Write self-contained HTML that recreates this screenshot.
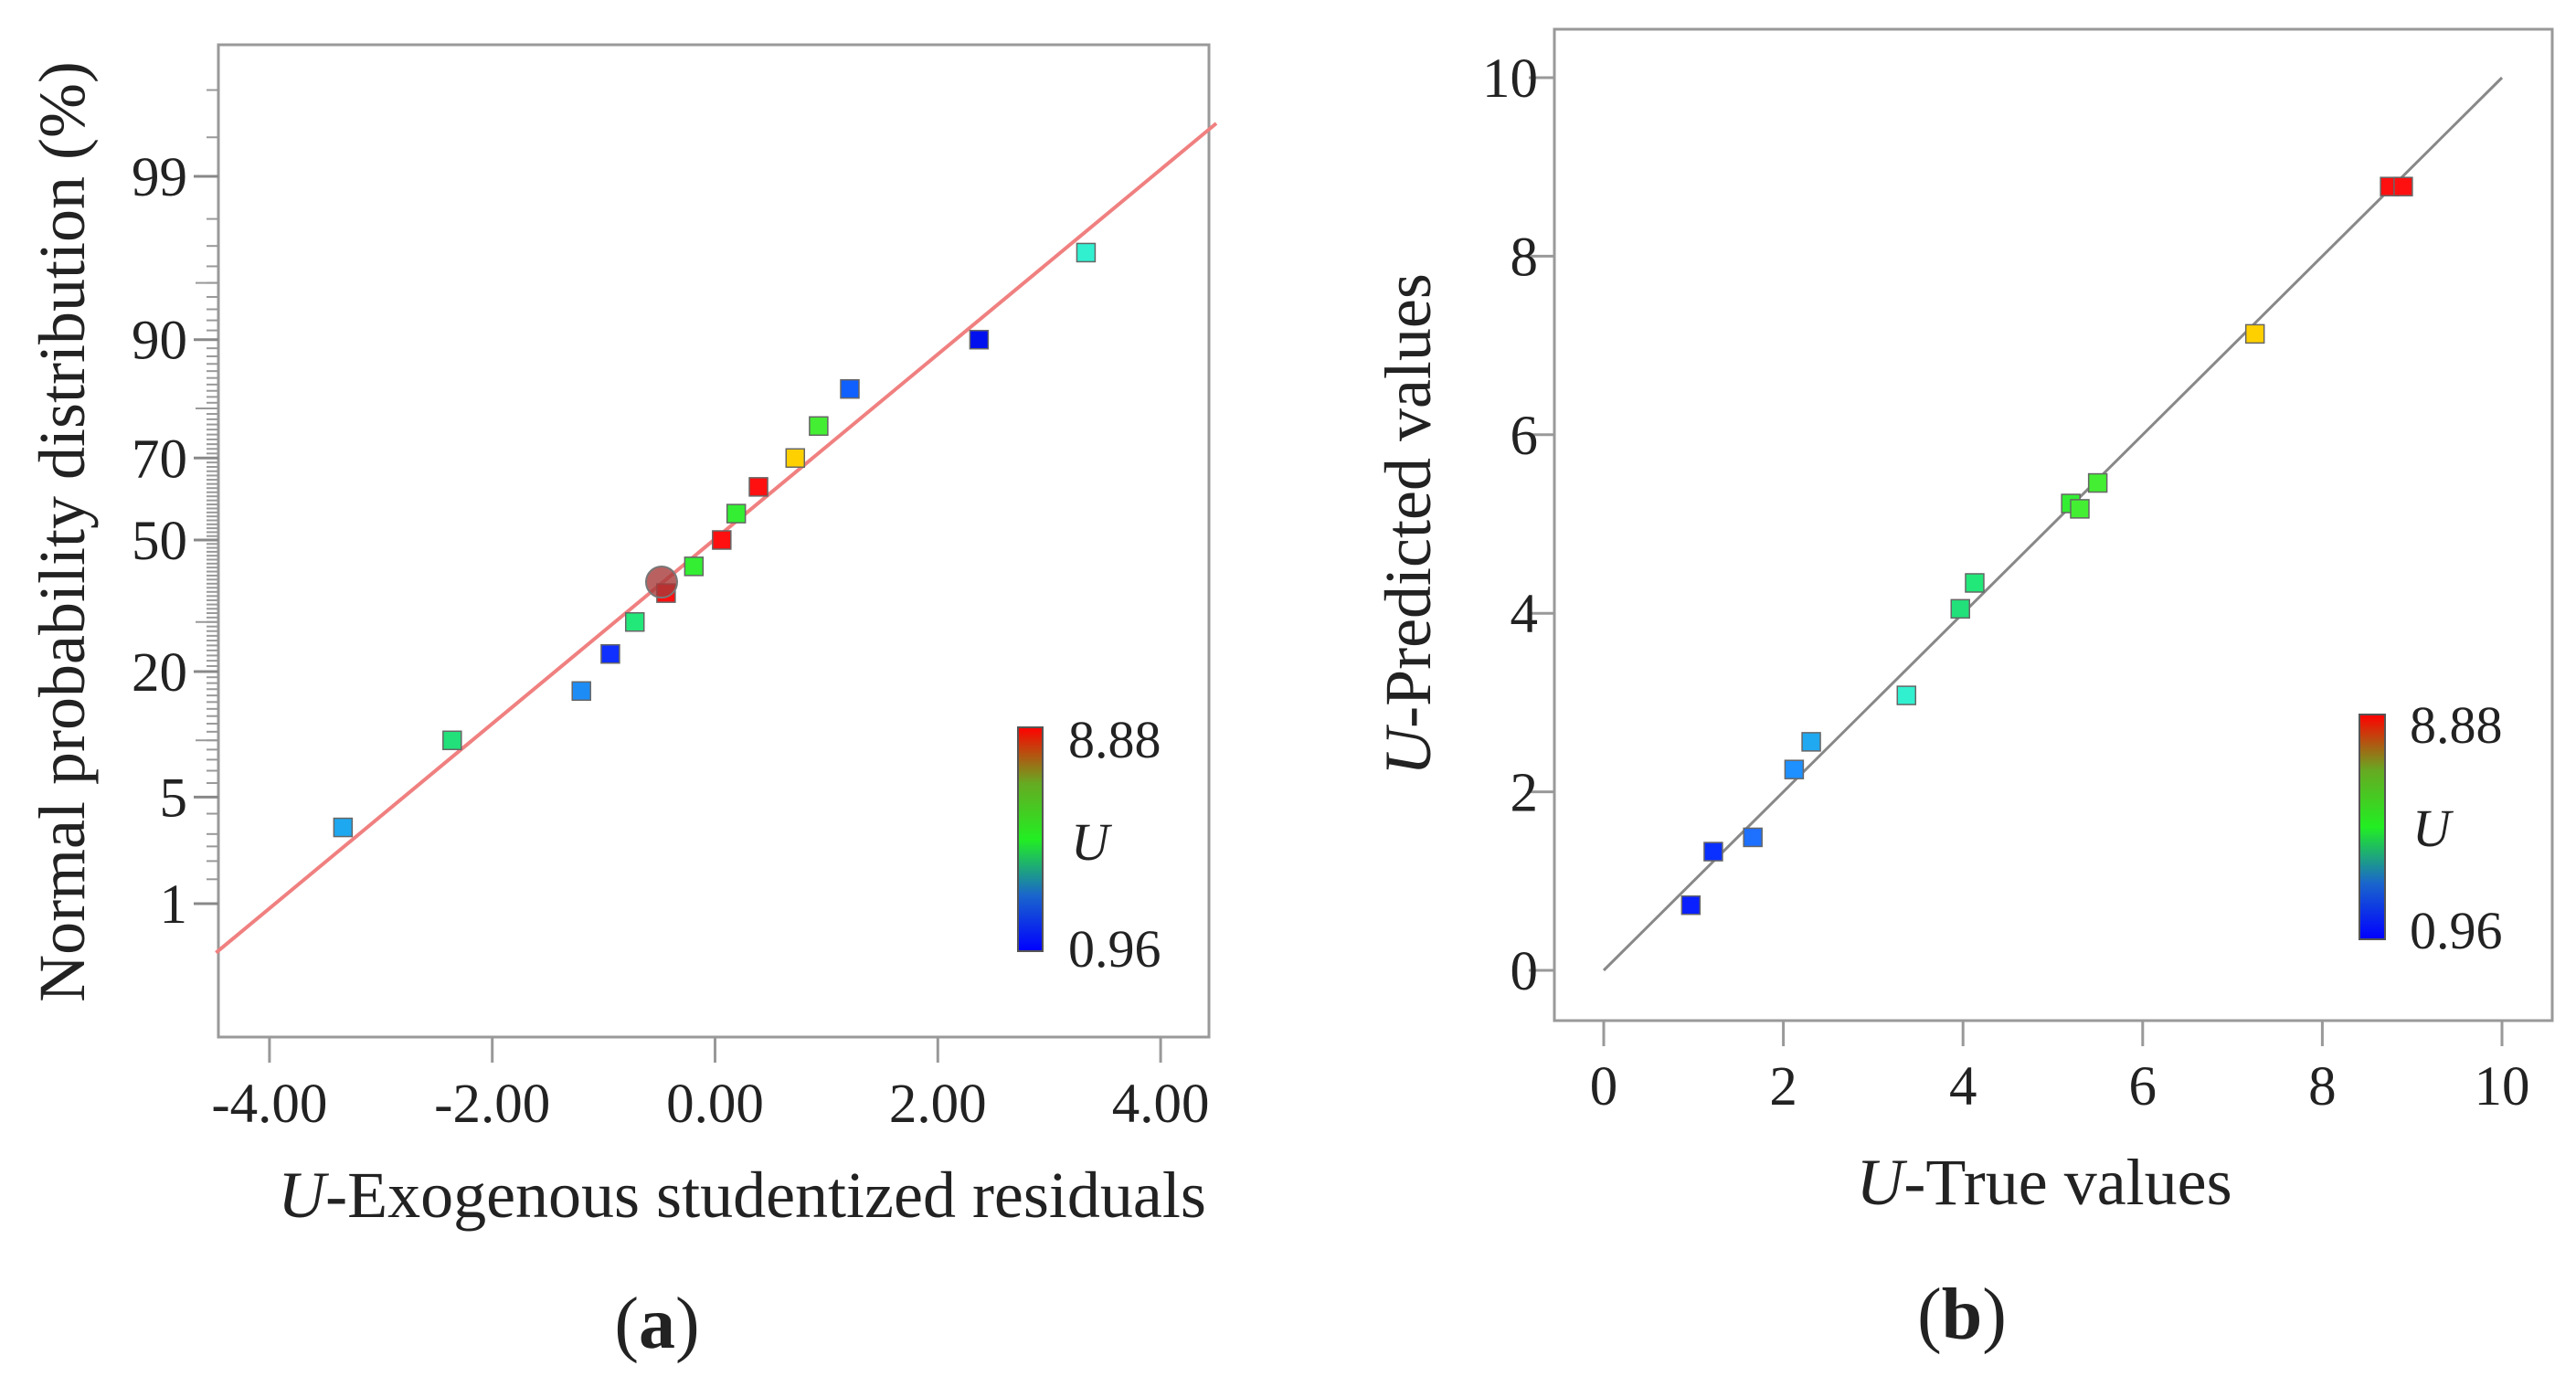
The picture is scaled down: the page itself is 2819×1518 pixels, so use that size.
<!DOCTYPE html>
<html><head><meta charset="utf-8"><style>
html,body{margin:0;padding:0;background:#fff;}
svg{display:block;}
text{font-family:"Liberation Serif",serif;fill:#222;}
</style></head><body>
<svg id="fig" width="2819" height="1518" viewBox="0 0 2819 1518" xmlns="http://www.w3.org/2000/svg">
<defs>
<linearGradient id="cbar" x1="0" y1="1" x2="0" y2="0">
<stop offset="0" stop-color="#0000ff"/><stop offset="0.25" stop-color="#1a66cc"/><stop offset="0.5" stop-color="#22ee22"/><stop offset="0.75" stop-color="#66aa22"/><stop offset="1" stop-color="#ff0000"/>
</linearGradient>
</defs>
<g id="pa"></g>
<g id="pb"></g>
</svg>
<script>
// Panel (a) data
const aResid = [-3.34,-2.36,-1.20,-0.94,-0.72,-0.44,-0.19,0.06,0.19,0.39,0.72,0.93,1.21,2.37,3.33];
const aProb = [3.3,10,16.7,23.3,30,36.7,43.3,50,56.7,63.3,70,76.7,83.3,90,96.7];
const aColors = ["#1ea8f0","#22e07a","#1e8cf5","#1030ff","#22e87a","#ff1010","#33ee33","#ff1010","#33ee33","#ff1010","#ffd000","#44ee33","#1060ff","#0010ee","#30f0d0"];
const aXTicks = [-4,-2,0,2,4];
const aXTickLabels = ["-4.00","-2.00","0.00","2.00","4.00"];
const aYTicks = [1,5,20,50,70,90,99];
const aLine = [[-4.48,-2.64],[4.50,2.665]]; // [residual, z]
const aHighlight = [-0.48, 39.4];
// Panel (b) data
const bTrue = [0.97,1.22,1.66,2.12,2.31,3.37,3.97,4.13,5.2,5.3,5.5,7.25,8.75,8.9];
const bPred = [0.73,1.33,1.49,2.25,2.56,3.08,4.05,4.34,5.23,5.17,5.46,7.13,8.78,8.78];
const bColors = ["#0a20ff","#0a30ff","#1e70ff","#1e90ff","#20a8f0","#30f0d0","#22e07a","#22e87a","#33ee33","#44ee33","#44ee33","#ffd000","#ff1010","#ff1010"];
const bTicks = [0,2,4,6,8,10];

const NS="http://www.w3.org/2000/svg";
function el(p,t,a){const e=document.createElementNS(NS,t);for(const k in a)e.setAttribute(k,a[k]);p.appendChild(e);return e;}
function probit(p){p=p/100;const a=[-39.6968302866538,220.946098424521,-275.928510446969,138.357751867269,-30.6647980661472,2.50662827745924],b=[-54.4760987982241,161.585836858041,-155.698979859887,66.8013118877197,-13.2806815528857],c=[-0.00778489400243029,-0.322396458041136,-2.40075827716184,-2.54973253934373,4.37466414146497,2.93816398269878],d=[0.00778469570904146,0.32246712907004,2.445134137143,3.75440866190742];
let q,r;if(p<0.02425){q=Math.sqrt(-2*Math.log(p));return(((((c[0]*q+c[1])*q+c[2])*q+c[3])*q+c[4])*q+c[5])/((((d[0]*q+d[1])*q+d[2])*q+d[3])*q+1);}
if(p>1-0.02425){q=Math.sqrt(-2*Math.log(1-p));return-(((((c[0]*q+c[1])*q+c[2])*q+c[3])*q+c[4])*q+c[5])/((((d[0]*q+d[1])*q+d[2])*q+d[3])*q+1);}
q=p-0.5;r=q*q;return(((((a[0]*r+a[1])*r+a[2])*r+a[3])*r+a[4])*r+a[5])*q/(((((b[0]*r+b[1])*r+b[2])*r+b[3])*r+b[4])*r+1);}

// ---------- Panel A ----------
const pa=document.getElementById('pa');
const axL=239,axR=1323,axT=49,axB=1135;
const ax=v=>782.5+v*121.9;
const az=z=>591-z*171.1;
const ap=p=>az(probit(p));
let r=el(pa,'rect',{x:axL,y:axT,width:axR-axL,height:axB-axT,fill:'none',stroke:'#999','stroke-width':3});

aXTicks.forEach((t,i)=>{
  el(pa,'line',{x1:ax(t),x2:ax(t),y1:axB,y2:axB+28,stroke:'#999','stroke-width':3});
  const tx=el(pa,'text',{x:ax(t),y:1228,'font-size':61,'text-anchor':'middle'});tx.textContent=aXTickLabels[i];
  
});
for(let p=2;p<=98;p++){el(pa,'line',{x1:axL-13,x2:axL,y1:ap(p),y2:ap(p),stroke:'#999','stroke-width':2});}
[1.5,2.5,99.5,99.8].forEach(p=>el(pa,'line',{x1:axL-13,x2:axL,y1:ap(p),y2:ap(p),stroke:'#999','stroke-width':2}));
[10,30,80,95].forEach(p=>el(pa,'line',{x1:axL-25,x2:axL,y1:ap(p),y2:ap(p),stroke:'#999','stroke-width':2}));
aYTicks.forEach(t=>{
  el(pa,'line',{x1:axL-27,x2:axL,y1:ap(t),y2:ap(t),stroke:'#888','stroke-width':3});
  const tx=el(pa,'text',{x:205,y:ap(t)+21,'font-size':61,'text-anchor':'end'});tx.textContent=t;
  
});
const fit=el(pa,'line',{x1:ax(aLine[0][0]),y1:az(aLine[0][1]),x2:ax(aLine[1][0]),y2:az(aLine[1][1]),stroke:'#f08080','stroke-width':4});

aResid.forEach((v,i)=>{
  const s=el(pa,'rect',{x:ax(v)-10,y:ap(aProb[i])-10,width:20,height:20,fill:aColors[i],stroke:'#666','stroke-width':1.5});
  
});
const hc=el(pa,'circle',{cx:ax(aHighlight[0]),cy:ap(aHighlight[1]),r:17,fill:'#a83a3a','fill-opacity':0.8,stroke:'#777','stroke-width':2});

let cb=el(pa,'rect',{x:1114,y:796,width:27,height:245,fill:'url(#cbar)',stroke:'#555','stroke-width':2});

let t;
t=el(pa,'text',{x:1169,y:829,'font-size':58});t.textContent='8.88';
t=el(pa,'text',{x:1172,y:941,'font-size':58,'font-style':'italic'});t.textContent='U';
t=el(pa,'text',{x:1169,y:1058,'font-size':58});t.textContent='0.96';
t=el(pa,'text',{x:0,y:0,'font-size':72,'text-anchor':'middle',transform:'translate(92,582) rotate(-90)'});t.textContent='Normal probability distribution (%)';

t=el(pa,'text',{x:812,y:1332,'font-size':72,'text-anchor':'middle'});t.innerHTML='<tspan font-style="italic">U</tspan>-Exogenous studentized residuals';

t=el(pa,'text',{x:719,y:1475,'font-size':80,'text-anchor':'middle'});t.innerHTML='(<tspan font-weight="bold">a</tspan>)';


// ---------- Panel B ----------
const pb=document.getElementById('pb');
const bL=1701,bR=2793,bT=32,bB=1117;
const bx=v=>1755+v*98.3;
const by=v=>1062-v*97.7;
r=el(pb,'rect',{x:bL,y:bT,width:bR-bL,height:bB-bT,fill:'none',stroke:'#999','stroke-width':3});

bTicks.forEach(v=>{
  el(pb,'line',{x1:bx(v),x2:bx(v),y1:bB,y2:bB+28,stroke:'#999','stroke-width':3});
  let a=el(pb,'text',{x:bx(v),y:1209,'font-size':61,'text-anchor':'middle'});a.textContent=v;
  
  el(pb,'line',{x1:bL-28,x2:bL,y1:by(v),y2:by(v),stroke:'#999','stroke-width':3});
  a=el(pb,'text',{x:1683,y:by(v)+21,'font-size':61,'text-anchor':'end'});a.textContent=v;
  
});
const idl=el(pb,'line',{x1:bx(0),y1:by(0),x2:bx(10),y2:by(10),stroke:'#888','stroke-width':3});

bTrue.forEach((v,i)=>{
  const s=el(pb,'rect',{x:bx(v)-10,y:by(bPred[i])-10,width:20,height:20,fill:bColors[i],stroke:'#666','stroke-width':1.5});
  
});
cb=el(pb,'rect',{x:2582,y:782,width:28,height:246,fill:'url(#cbar)',stroke:'#555','stroke-width':2});

t=el(pb,'text',{x:2637,y:813,'font-size':58});t.textContent='8.88';
t=el(pb,'text',{x:2640,y:926,'font-size':58,'font-style':'italic'});t.textContent='U';
t=el(pb,'text',{x:2637,y:1038,'font-size':58});t.textContent='0.96';
t=el(pb,'text',{x:0,y:0,'font-size':72,'text-anchor':'middle',transform:'translate(1565,574) rotate(-90)'});t.innerHTML='<tspan font-style="italic">U</tspan>-Predicted values';

t=el(pb,'text',{x:2237,y:1318,'font-size':72,'text-anchor':'middle'});t.innerHTML='<tspan font-style="italic">U</tspan>-True values';

t=el(pb,'text',{x:2147,y:1465,'font-size':80,'text-anchor':'middle'});t.innerHTML='(<tspan font-weight="bold">b</tspan>)';

</script>
</body></html>
